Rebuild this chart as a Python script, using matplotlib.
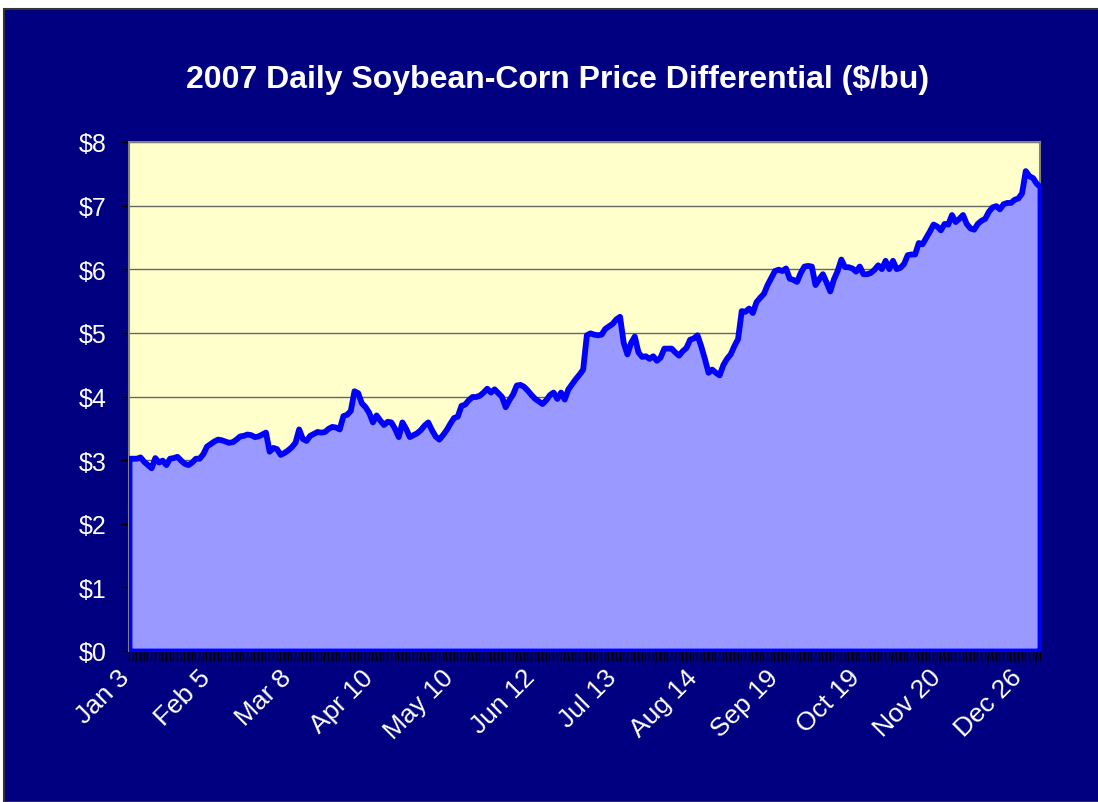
import numpy as np
import matplotlib.pyplot as plt
from matplotlib.patches import Rectangle
from matplotlib.transforms import ScaledTranslation

plt.rcParams['font.family'] = ['Liberation Sans', 'DejaVu Sans']

# daily soybean minus corn price ($/bu), trading days of 2007
diff = [
    3.03, 3.03, 3.03, 3.05, 2.98, 2.93, 2.88, 3.04, 2.97, 3.00,
    2.93, 3.03, 3.04, 3.06, 3.00, 2.95, 2.93, 2.97, 3.03, 3.03,
    3.10, 3.22, 3.26, 3.30, 3.33, 3.32, 3.30, 3.28, 3.29, 3.33,
    3.38, 3.39, 3.41, 3.40, 3.37, 3.38, 3.41, 3.44, 3.14, 3.20,
    3.18, 3.09, 3.12, 3.16, 3.21, 3.28, 3.49, 3.34, 3.31, 3.39,
    3.42, 3.45, 3.44, 3.45, 3.50, 3.53, 3.52, 3.49, 3.70, 3.72,
    3.78, 4.09, 4.06, 3.90, 3.84, 3.75, 3.60, 3.71, 3.63, 3.56,
    3.61, 3.60, 3.50, 3.37, 3.60, 3.50, 3.37, 3.40, 3.43, 3.48,
    3.55, 3.60, 3.48, 3.38, 3.33, 3.40, 3.48, 3.58, 3.67, 3.69,
    3.86, 3.88, 3.95, 4.00, 4.00, 4.02, 4.07, 4.13, 4.07, 4.12,
    4.06, 4.00, 3.84, 3.95, 4.04, 4.18, 4.19, 4.16, 4.10, 4.03,
    3.97, 3.93, 3.89, 3.95, 4.03, 4.07, 3.97, 4.07, 3.96, 4.12,
    4.20, 4.28, 4.35, 4.43, 4.97, 5.00, 4.98, 4.97, 4.98, 5.07,
    5.11, 5.15, 5.22, 5.26, 4.85, 4.67, 4.85, 4.95, 4.70, 4.63,
    4.64, 4.60, 4.64, 4.57, 4.62, 4.76, 4.76, 4.76, 4.70, 4.65,
    4.72, 4.77, 4.90, 4.92, 4.97, 4.80, 4.60, 4.38, 4.43, 4.38,
    4.34, 4.50, 4.60, 4.67, 4.80, 4.91, 5.35, 5.34, 5.39, 5.32,
    5.49, 5.56, 5.62, 5.76, 5.87, 5.98, 6.00, 5.98, 6.02, 5.86,
    5.84, 5.81, 5.95, 6.05, 6.06, 6.05, 5.76, 5.85, 5.93, 5.80,
    5.66, 5.85, 5.98, 6.16, 6.04, 6.04, 6.02, 5.97, 6.05, 5.93,
    5.93, 5.95, 6.00, 6.07, 6.01, 6.14, 6.01, 6.14, 6.01, 6.03,
    6.09, 6.23, 6.24, 6.24, 6.42, 6.40, 6.50, 6.60, 6.71, 6.68,
    6.62, 6.72, 6.71, 6.86, 6.75, 6.80, 6.86, 6.72, 6.65, 6.63,
    6.72, 6.77, 6.80, 6.91, 6.98, 7.00, 6.95, 7.03, 7.05, 7.05,
    7.10, 7.12, 7.20, 7.55, 7.47, 7.44, 7.35, 7.30,
]
date_labels = ['Jan 3', 'Feb 5', 'Mar 8', 'Apr 10', 'May 10', 'Jun 12',
               'Jul 13', 'Aug 14', 'Sep 19', 'Oct 19', 'Nov 20', 'Dec 26']
label_step = 22
y_ticks = [0, 1, 2, 3, 4, 5, 6, 7, 8]

x = np.arange(len(diff))

fig = plt.figure(figsize=(10.98, 8.03), dpi=100, facecolor='white')
fig.patches.append(Rectangle((4 / 1098, 0), 1, 1 - 10 / 803, transform=fig.transFigure,
                             facecolor='#000080', edgecolor='#333333', linewidth=1.5,
                             zorder=-10))

ax = fig.add_axes([129 / 1098, 1 - 652 / 803, 911 / 1098, 509 / 803])
ax.set_facecolor('#FFFFCC')

ax.fill_between(x, diff, 0, facecolor='#9999FF', edgecolor='#0000FF',
                linewidth=4.2, joinstyle='round', zorder=3)

ax.set_xlim(0, len(diff) - 1)
ax.set_ylim(0, 8)

ax.set_yticks(y_ticks)
ax.set_yticklabels([f'${v}' for v in y_ticks])
ax.yaxis.grid(True, color='#666666', linewidth=1)
ax.set_axisbelow(True)

ax.set_xticks(x, minor=True)
ax.set_xticks(x[::label_step][:len(date_labels)])
ax.set_xticklabels(date_labels, rotation=45, ha='right', rotation_mode='anchor')

ax.tick_params(axis='y', colors='black', labelcolor='white', labelsize=18,
               length=6, width=1, pad=10)
ax.tick_params(axis='x', which='both', colors='black', length=7, width=1)
ax.tick_params(axis='x', which='major', labelcolor='white', labelsize=19, pad=3)

# Excel puts the end of each slanted label a bit left of its tick
shift = ScaledTranslation(-12 / 100, 0, fig.dpi_scale_trans)
for lab in ax.get_xticklabels():
    lab.set_transform(lab.get_transform() + shift)

for side in ['top', 'right', 'left']:
    ax.spines[side].set_color('#808080')
    ax.spines[side].set_linewidth(1.5)
ax.spines['bottom'].set_color('black')

fig.text(0.508, 1 - 80 / 803, '2007 Daily Soybean-Corn Price Differential ($/bu)',
         color='white', fontsize=23, fontweight='bold', ha='center', va='center')

fig.savefig('out.png', dpi=100, facecolor=fig.get_facecolor())
